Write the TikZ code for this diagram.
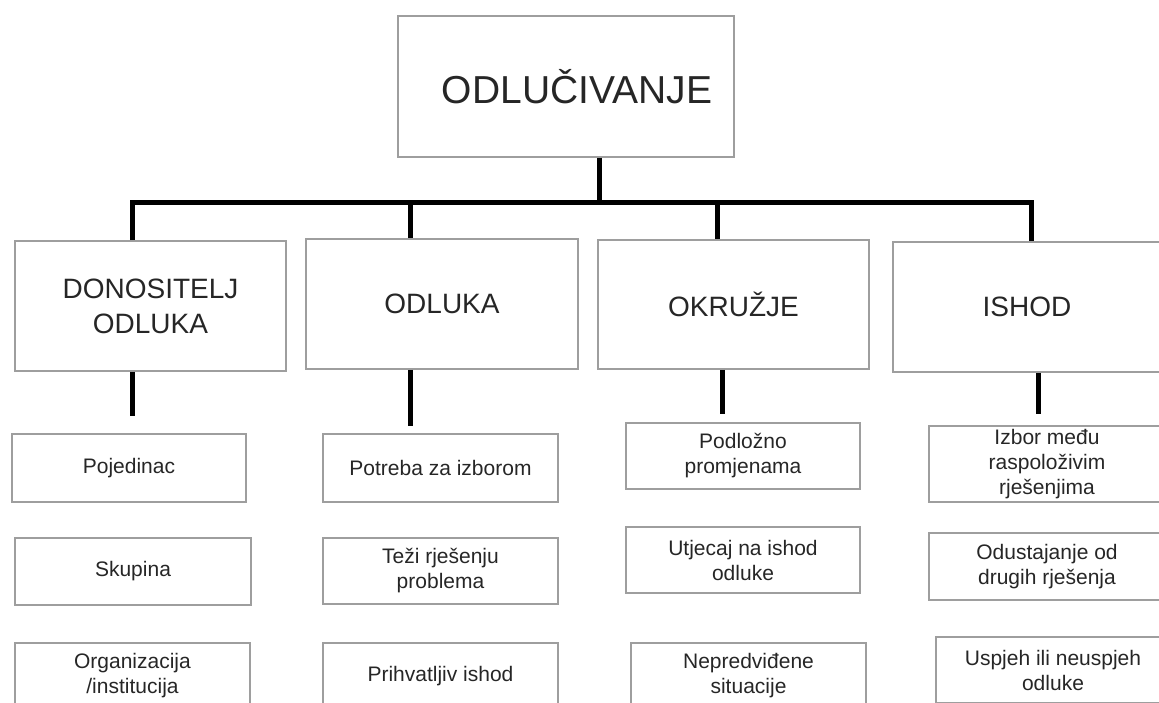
\documentclass[tikz,border=0pt]{standalone}
\usepackage{fontspec}
\setmainfont{Liberation Sans}
\begin{document}
\begin{tikzpicture}[x=1pt,y=-1pt,
  box/.style={draw=black!38, line width=1.6pt, text=black!85, align=center, inner sep=0pt},
  root/.style={box, font=\fontsize{39}{46}\selectfont},
  head/.style={box, font=\fontsize{28}{35}\selectfont},
  leaf/.style={box, font=\fontsize{21}{25}\selectfont},
  link/.style={line width=5pt}]
\useasboundingbox (0,0) rectangle (1159,702);
\node[root, minimum width=336pt, minimum height=141pt] (root) at (566,86.5){\hspace*{22pt}ODLUČIVANJE};
\node[head, minimum width=271pt, minimum height=130pt] (c1) at (150.5,306){DONOSITELJ\\ODLUKA};
\node[head, minimum width=272pt, minimum height=130pt] (c2) at (442,304){ODLUKA};
\node[head, minimum width=271pt, minimum height=129pt] (c3) at (733.5,304.5){OKRUŽJE};
\node[head, minimum width=268pt, minimum height=130pt] (c4) at (1027,307){ISHOD};
\node[leaf, minimum width=234pt, minimum height=68pt] (c1a) at (129,468){Pojedinac};
\node[leaf, minimum width=236pt, minimum height=67pt] (c1b) at (133,571.5){Skupina};
\node[leaf, minimum width=235pt, minimum height=66pt] (c1c) at (132.5,676){Organizacija\\/institucija};
\node[leaf, minimum width=235pt, minimum height=68pt] (c2a) at (440.5,468){Potreba za izborom};
\node[leaf, minimum width=235pt, minimum height=66pt] (c2b) at (440.5,571){Teži rješenju\\problema};
\node[leaf, minimum width=235pt, minimum height=66pt] (c2c) at (440.5,676){Prihvatljiv ishod};
\node[leaf, minimum width=234pt, minimum height=66pt] (c3a) at (743,456){Podložno\\promjenama};
\node[leaf, minimum width=234pt, minimum height=66pt] (c3b) at (743,560){Utjecaj na ishod\\odluke};
\node[leaf, minimum width=235pt, minimum height=66pt] (c3c) at (748.5,676){Nepredviđene\\situacije};
\node[leaf, minimum width=236pt, minimum height=76pt] (c4a) at (1047,464){Izbor među\\raspoloživim\\rješenjima};
\node[leaf, minimum width=236pt, minimum height=67pt] (c4b) at (1047,566.5){Odustajanje od\\drugih rješenja};
\node[leaf, minimum width=234pt, minimum height=66pt] (c4c) at (1053,670){Uspjeh ili neuspjeh\\odluke};
\coordinate (jc) at (599,202);
\coordinate (j1) at (132,202);
\coordinate (j2) at (410,202);
\coordinate (j3) at (717,202);
\coordinate (j4) at (1031,202);
\coordinate (k3) at (722,0);
\coordinate (k4) at (1038,0);
\draw[link](root.south -| jc) -- (jc);
\draw[link](j1 |- c1.north) -- (j1) -- (j4) -- (j4 |- c4.north);
\draw[link](j2) -- (j2 |- c2.north);
\draw[link](j3) -- (j3 |- c3.north);
\draw[link, shorten >=17pt](c1.south -| j1) -- (j1 |- c1a.north);
\draw[link, shorten >=7pt](c2.south -| j2) -- (j2 |- c2a.north);
\draw[link, shorten >=8pt](c3.south -| k3) -- (k3 |- c3a.north);
\draw[link, shorten >=11pt](c4.south -| k4) -- (k4 |- c4a.north);

\end{tikzpicture}
\end{document}
